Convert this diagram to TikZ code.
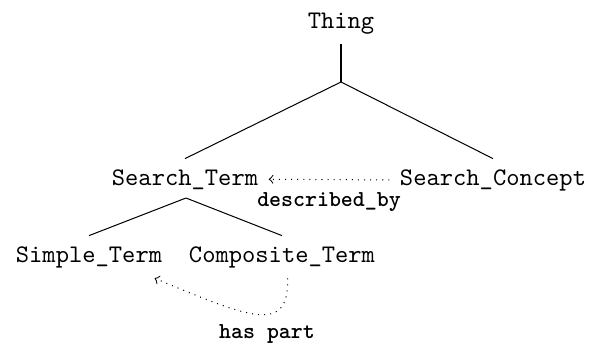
\documentclass[tikz,border=0pt]{standalone}
\usepackage{tikz}
\usetikzlibrary{arrows}
\tikzstyle{concept} = [rectangle, inner sep=4pt, anchor=base, font=\ttfamily]
\tikzstyle{relation} = [font=\ttfamily\bfseries\small, inner sep=1pt]
\tikzstyle{relarrow} = [dotted, ->, >=to]
\tikzstyle{line} = [thin, -]

\begin{document}
\begin{tikzpicture}[x=0.395pt, y=-0.395pt]
      \useasboundingbox (0, 0) rectangle (598, 343);
      \node[concept] (thing)         at (341, 28)  {Thing};
      \node[concept] (searchterm)    at (185, 185) {Search\_Term};
      \node[concept] (searchconcept) at (493, 185) {Search\_Concept};
      \node[concept] (simpleterm)    at (89, 262)  {Simple\_Term};
      \node[concept] (compositeterm) at (282, 262) {Composite\_Term};
      \coordinate (thingfork) at (341, 82);
      \coordinate (termfork)  at (186, 198);
      % tree
      \draw[line] (thing) -- (thingfork);
      \draw[line] (thingfork) -- (searchterm.north);
      \draw[line] (thingfork) -- (searchconcept.north);
      \draw[line] (termfork) -- (simpleterm.north);
      \draw[line] (termfork) -- (compositeterm.north);
      % relations
      \draw[relarrow] (searchconcept.west) -- (searchterm.east)
            node[relation, midway, below=4pt] (describedby) {described\_by};
      \draw[relarrow] (compositeterm.-75) .. controls (289, 335) and (250, 318) .. (simpleterm.-18);
      \node[relation, anchor=base] (haspart) at (267, 338) {has part};
\end{tikzpicture}
\end{document}
